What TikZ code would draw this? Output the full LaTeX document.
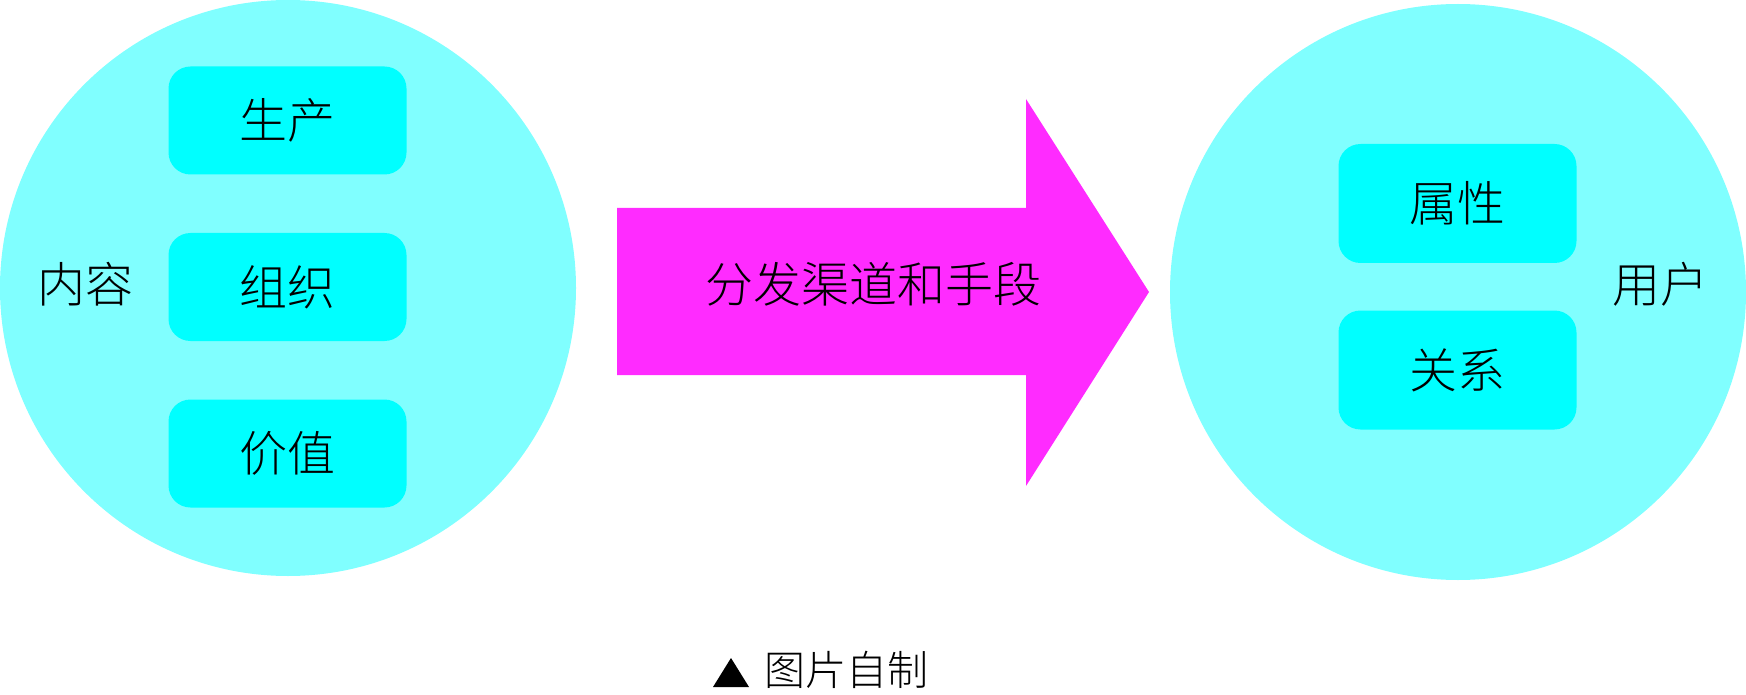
\documentclass[tikz,border=0pt]{standalone}
\usepackage{fontspec}
\setmainfont{Noto Sans CJK SC Light}
\definecolor{circfill}{HTML}{80FFFF}
\definecolor{boxfill}{HTML}{00FFFF}
\definecolor{arrowfill}{HTML}{FF2BFF}
\tikzset{
  bigcirc/.style={circle, fill=circfill, draw=none, minimum size=576pt, inner sep=0pt},
  itembox/.style={rectangle, rounded corners=22pt, fill=boxfill, draw=none, minimum width=238pt, minimum height=108pt, inner sep=0pt, font=\fontsize{48}{52}\selectfont},
  rbox/.style={itembox, minimum height=119pt},
  lbl/.style={font=\fontsize{48}{52}\selectfont, inner sep=0pt},
}
\begin{document}
\begin{tikzpicture}[x=1pt,y=-1pt]
\useasboundingbox (0,0) rectangle (1746,695);
\node[bigcirc] (L) at (288,288) {};
\node[bigcirc] (R) at (1458,292) {};
\node[itembox] (b1) at (287.5,120.5) {生产};
\node[itembox] (b2) at (287.5,287) {组织};
\node[itembox] (b3) at (287.5,453.5) {价值};
\node[rbox] (b4) at (1457.5,203.5) {属性};
\node[rbox] (b5) at (1457.5,370) {关系};
\node[lbl] (t1) at (85,284) {内容};
\node[lbl] (t2) at (1660,284) {用户};
\fill[arrowfill] (617,208) -- (1026,208) -- (1026,99) -- (1149,292) -- (1026,486) -- (1026,375) -- (617,375) -- cycle;
\node[lbl] (t3) at (873,284) {分发渠道和手段};
\node[lbl, font=\fontsize{41}{44}\selectfont] (cap) at (846.5,670) {图片自制};
\fill[black] (713,687) -- (731,658) -- (749,687) -- cycle;
\end{tikzpicture}
\end{document}
